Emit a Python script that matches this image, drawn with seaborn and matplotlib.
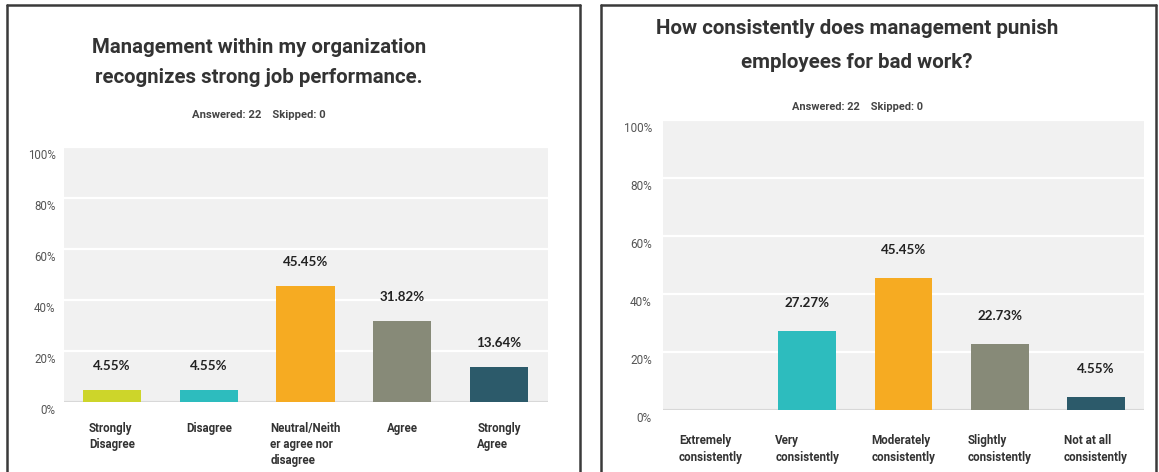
import matplotlib
matplotlib.use("Agg")
import matplotlib.pyplot as plt
import seaborn as sns
import pandas as pd
from matplotlib.lines import Line2D
from matplotlib.transforms import ScaledTranslation

# ---- data -------------------------------------------------------------
left_title = "Management within my organization\nrecognizes strong job performance."
left_cats = ["Strongly\nDisagree", "Disagree", "Neutral/Neith\ner agree nor\ndisagree",
             "Agree", "Strongly\nAgree"]
left_vals = [4.55, 4.55, 45.45, 31.82, 13.64]

right_title = "How consistently does management punish\nemployees for bad work?"
right_cats = ["Extremely\nconsistently", "Very\nconsistently", "Moderately\nconsistently",
              "Slightly\nconsistently", "Not at all\nconsistently"]
right_vals = [0.0, 27.27, 45.45, 22.73, 4.55]

answered_text = "Answered: 22    Skipped: 0"
y_ticks = [0, 20, 40, 60, 80, 100]

left_colors = ["#cdd52a", "#2dbcbe", "#f6ab22", "#878a78", "#2c5a6a"]
right_colors = ["#cdd52a", "#2dbcbe", "#f6ab22", "#878a78", "#2c5a6a"]

# ---- style ------------------------------------------------------------
sns.set_theme(style="white")
BASE = ["Roboto", "DejaVu Sans"]
plt.rcParams["font.family"] = BASE

W, H = 1159, 472
fig = plt.figure(figsize=(W / 100, H / 100), dpi=100)
renderer = fig.canvas.get_renderer()


def fx(x):
    return x / W


def fy(y):
    return 1 - y / H


def fit_width(txt, target_px):
    """Scale a text's font size so its widest line spans target_px."""
    w = txt.get_window_extent(renderer).width
    txt.set_fontsize(txt.get_fontsize() * target_px / w)


def panel(rect_px, cats, vals, colors, label_off, tick_pad, xlab_pad, lsp, fs_y, fs_x):
    x0, ytop, x1, ybase = rect_px
    ax = fig.add_axes([fx(x0), fy(ybase), (x1 - x0) / W, (ybase - ytop) / H])
    df = pd.DataFrame({"cat": cats, "val": vals})
    sns.barplot(data=df, x="cat", y="val", hue="cat", palette=colors,
                legend=False, width=0.6, saturation=1, ax=ax, zorder=3,
                edgecolor="none")
    ax.set_facecolor("#f1f1f1")
    ax.set_ylim(0, 100)
    ax.set_xlim(-0.5, len(cats) - 0.5)
    for s in ax.spines.values():
        s.set_visible(False)
    ax.set_xlabel("")
    ax.set_ylabel("")
    ax.set_yticks(y_ticks)
    ax.set_yticklabels([f"{v}%" for v in y_ticks], fontsize=fs_y, color="#555555")
    ax.yaxis.grid(True, color="white", lw=1.6, zorder=1)
    ax.set_axisbelow(True)
    ax.axhline(0, color="#d8d8d8", lw=1.6, zorder=2)
    ax.tick_params(axis="y", length=0, pad=tick_pad)
    ax.tick_params(axis="x", length=0, pad=xlab_pad)
    shift = ScaledTranslation(0, -0.07, fig.dpi_scale_trans)
    for lbl in ax.get_yticklabels():
        lbl.set_transform(lbl.get_transform() + shift)
    for lbl in ax.get_xticklabels():
        lbl.set_fontsize(fs_x)
        lbl.set_fontweight("bold")
        lbl.set_color("#333333")
        lbl.set_multialignment("left")
        lbl.set_linespacing(lsp)
    for i, v in enumerate(vals):
        if v > 0:
            ax.annotate(f"{v:.2f}%", (i, v), xytext=(0, label_off),
                        textcoords="offset points", ha="center", va="center",
                        fontsize=9.6, fontweight="bold", color="#222222",
                        family=["Lato", "DejaVu Sans"])
    return ax


panel((63.5, 147, 547.5, 402), left_cats, left_vals, left_colors,
      label_off=17.3, tick_pad=5.8, xlab_pad=14.5, lsp=1.3, fs_y=8.3, fs_x=8.3)
panel((663, 120, 1144, 410), right_cats, right_vals, right_colors,
      label_off=20.2, tick_pad=8, xlab_pad=17.5, lsp=1.4, fs_y=8.5, fs_x=8.4)

# titles and answered counts
t1 = fig.text(fx(259), fy(62.5), left_title, ha="center", va="center", fontsize=17,
              fontweight="bold", color="#333333", linespacing=1.73)
fit_width(t1, 335)
a1 = fig.text(fx(259), fy(115), answered_text, ha="center", va="center", fontsize=9,
              fontweight="bold", color="#444444")
fit_width(a1, 135)
t2 = fig.text(fx(857), fy(45.5), right_title, ha="center", va="center", fontsize=18,
              fontweight="bold", color="#333333", linespacing=1.94)
fit_width(t2, 402)
a2 = fig.text(fx(857), fy(107), answered_text, ha="center", va="center", fontsize=9,
              fontweight="bold", color="#444444")
fit_width(a2, 131)

# panel frames
frame = dict(transform=fig.transFigure, color="#3a3a3a", lw=1.8)
for (xa, xb) in [(7, 580), (601, 1156)]:
    fig.add_artist(Line2D([fx(xa), fx(xb)], [fy(5), fy(5)], **frame))
    fig.add_artist(Line2D([fx(xa), fx(xa)], [fy(5), fy(480)], **frame))
    fig.add_artist(Line2D([fx(xb), fx(xb)], [fy(5), fy(480)], **frame))

fig.savefig("out.png", dpi=100, facecolor="white")
